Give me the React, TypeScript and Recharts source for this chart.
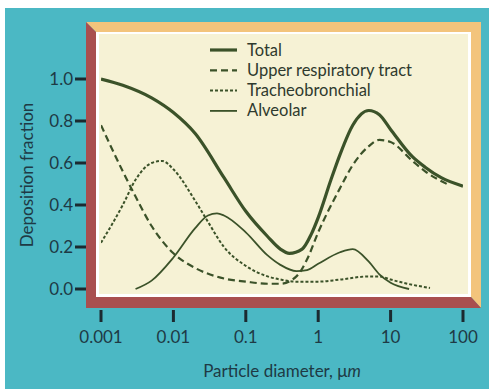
import { Line, LineChart, XAxis, YAxis } from "recharts"

// particle diameter (µm) vs deposition fraction
const totalDiameter = [0.001, 0.002, 0.005, 0.01, 0.02, 0.05, 0.1, 0.2, 0.3, 0.4, 0.6, 0.8, 1, 1.5, 2, 3, 5, 7, 10, 20, 30, 50, 100]
const totalFraction = [1.0, 0.97, 0.91, 0.84, 0.74, 0.53, 0.37, 0.25, 0.19, 0.17, 0.19, 0.26, 0.34, 0.52, 0.64, 0.78, 0.85, 0.83, 0.76, 0.63, 0.58, 0.53, 0.49]

const upperDiameter = [0.001, 0.002, 0.003, 0.005, 0.01, 0.02, 0.05, 0.1, 0.2, 0.3, 0.5, 0.7, 1, 2, 3, 5, 7, 10, 20, 30, 60]
const upperFraction = [0.78, 0.56, 0.44, 0.3, 0.17, 0.1, 0.05, 0.035, 0.025, 0.025, 0.06, 0.14, 0.27, 0.48, 0.59, 0.68, 0.71, 0.7, 0.61, 0.56, 0.5]

const trachDiameter = [0.001, 0.002, 0.003, 0.005, 0.007, 0.01, 0.02, 0.03, 0.05, 0.1, 0.2, 0.3, 0.5, 1, 2, 5, 7, 10, 20, 35]
const trachFraction = [0.22, 0.4, 0.52, 0.6, 0.61, 0.57, 0.42, 0.32, 0.2, 0.11, 0.06, 0.045, 0.035, 0.035, 0.045, 0.06, 0.06, 0.045, 0.02, 0.005]

const alvDiameter = [0.003, 0.005, 0.01, 0.02, 0.03, 0.04, 0.05, 0.1, 0.2, 0.3, 0.5, 0.7, 1, 2, 3, 5, 7, 10, 18]
const alvFraction = [0.0, 0.04, 0.15, 0.29, 0.35, 0.36, 0.35, 0.27, 0.16, 0.115, 0.085, 0.09, 0.12, 0.175, 0.19, 0.13, 0.07, 0.03, 0.0]

const xTicks = [0.001, 0.01, 0.1, 1, 10, 100]
const xTickLabels = ["0.001", "0.01", "0.1", "1", "10", "100"]
const yTicks = [0, 0.2, 0.4, 0.6, 0.8, 1.0]

const zip = (xs: number[], ys: number[]) => xs.map((x, i) => ({ x, y: ys[i] }))

const CURVE = "#3b5229"
const LABEL = "#1e3a45"
const FONT = "Lato, 'Open Sans', sans-serif"

const series = [
  { name: "Total", data: zip(totalDiameter, totalFraction), width: 3.2, dash: undefined },
  { name: "Upper respiratory tract", data: zip(upperDiameter, upperFraction), width: 2.2, dash: "7 4" },
  { name: "Tracheobronchial", data: zip(trachDiameter, trachFraction), width: 2, dash: "3 2" },
  { name: "Alveolar", data: zip(alvDiameter, alvFraction), width: 1.8, dash: undefined },
]

function XTick({ x, y, payload }: any) {
  const i = xTicks.indexOf(payload.value)
  return (
    <g>
      <line x1={x} x2={x} y1={y + 21} y2={y + 33} stroke="#1b2a30" strokeWidth={3} />
      <text x={x} y={y + 54} textAnchor="middle" fill={LABEL} fontSize={17} fontFamily={FONT}>
        {xTickLabels[i] ?? payload.value}
      </text>
    </g>
  )
}

function YTick({ x, y, payload }: any) {
  return (
    <g>
      <line x1={x - 26} x2={x - 15} y1={y} y2={y} stroke="#1b2a30" strokeWidth={3} />
      <text x={x - 28} y={y + 6} textAnchor="end" fill={LABEL} fontSize={17} fontFamily={FONT}>
        {Number(payload.value).toFixed(1)}
      </text>
    </g>
  )
}

function XTitle({ viewBox }: any) {
  const cx = viewBox.x + viewBox.width / 2
  return (
    <text x={cx} y={viewBox.y + 88} textAnchor="middle" fill={LABEL} fontSize={17} fontFamily={FONT}>
      Particle diameter, μ<tspan fontStyle="italic">m</tspan>
    </text>
  )
}

function YTitle({ viewBox }: any) {
  const cx = viewBox.x - 15
  const cy = viewBox.y + viewBox.height / 2 - 9
  return (
    <text x={cx} y={cy} transform={`rotate(-90 ${cx} ${cy})`} textAnchor="middle" dominantBaseline="central" fill={LABEL} fontSize={17} fontFamily={FONT}>
      Deposition fraction
    </text>
  )
}

function LegendBox() {
  return (
    <svg width={240} height={90} style={{ position: "absolute", left: 208, top: 40 }}>
      {series.map((s, i) => {
        const cy = 10 + i * 20.3
        return (
          <g key={s.name}>
            <line x1={2} x2={29} y1={cy} y2={cy} stroke={CURVE} strokeWidth={s.width} strokeDasharray={s.dash} />
            <text x={39} y={cy + 5.5} fill="#2f3a2e" fontSize={16.5} fontFamily={FONT}>
              {s.name}
            </text>
          </g>
        )
      })}
    </svg>
  )
}

// 3D picture frame behind the plot
function Frame() {
  return (
    <svg width={489} height={389} style={{ position: "absolute", left: 0, top: 0 }}>
      <rect x={0} y={0} width={489} height={389} fill="#ffffff" />
      <rect x={5} y={8} width={484} height={381} fill="#4bb8c4" />
      <polygon points="86,22 481,22 481,308 471,297 471,32 96,32" fill="#f3c47c" />
      <polygon points="86,22 96,32 96,297 471,297 481,308 86,308" fill="#a94f4f" />
      <rect x={96} y={32} width={375} height={265} fill="#ffffff" />
      <rect x={99} y={34} width={369} height={260} fill="#f6f2d5" />
    </svg>
  )
}

export default function App() {
  return (
    <div style={{ position: "absolute", left: 0, top: 0, width: 489, height: 389 }}>
      <Frame />
      <LegendBox />
      <div style={{ position: "absolute", left: 0, top: 0 }}>
        <LineChart width={489} height={389} margin={{ top: 79, right: 26, bottom: 40, left: 41 }}>
          <XAxis
            dataKey="x"
            type="number"
            scale="log"
            domain={[0.001, 100]}
            ticks={xTicks}
            allowDataOverflow
            height={60}
            axisLine={false}
            tickLine={false}
            tickSize={0}
            tickMargin={0}
            tick={<XTick />}
            interval={0}
            label={{ content: <XTitle /> }}
          />
          <YAxis
            type="number"
            domain={[0, 1]}
            ticks={yTicks}
            width={60}
            axisLine={false}
            tickLine={false}
            tickSize={0}
            tickMargin={0}
            tick={<YTick />}
            interval={0}
            label={{ content: <YTitle /> }}
          />
          {series.map((s) => (
            <Line
              key={s.name}
              name={s.name}
              data={s.data}
              dataKey="y"
              type="monotone"
              stroke={CURVE}
              strokeWidth={s.width}
              strokeDasharray={s.dash}
              dot={false}
              activeDot={false}
              isAnimationActive={false}
            />
          ))}
        </LineChart>
      </div>
    </div>
  )
}
